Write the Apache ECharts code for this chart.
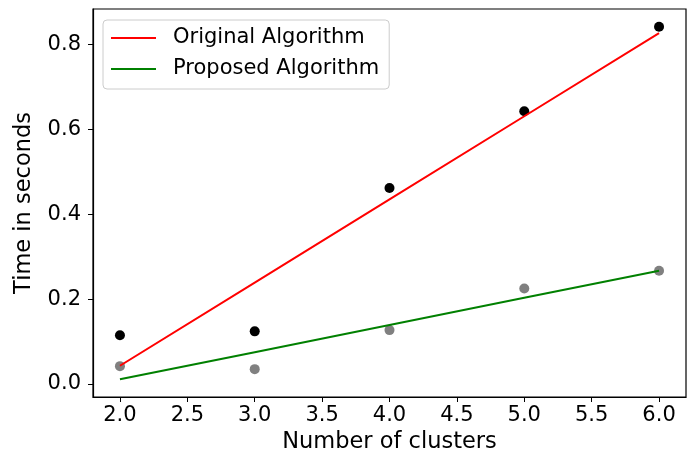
<!DOCTYPE html>
<html>
<head>
<meta charset="utf-8">
<script src="https://cdn.jsdelivr.net/npm/echarts@6/dist/echarts.min.js"></script>
<style>html,body{margin:0;padding:0;background:#fff}#c{width:692px;height:460px}</style>
</head>
<body>
<div id="c"></div>
<script>
var clusters = [2, 3, 4, 5, 6];
var originalTimes = [0.115, 0.124, 0.462, 0.643, 0.842];
var proposedTimes = [0.042, 0.035, 0.127, 0.225, 0.267];
var originalFit = [0.043, 0.239, 0.435, 0.631, 0.827];
var proposedFit = [0.011, 0.075, 0.139, 0.203, 0.267];
var xTicks = [2.0, 2.5, 3.0, 3.5, 4.0, 4.5, 5.0, 5.5, 6.0];
var yTicks = [0.0, 0.2, 0.4, 0.6, 0.8];

function pairs(xs, ys) { return xs.map(function (x, i) { return [x, ys[i]]; }); }

var FONT = 'DejaVu Sans';
var FS = 21;
var FT = 22.5;
var chart = echarts.init(document.getElementById('c'), null, { renderer: 'canvas' });
chart.setOption({
  animation: false,
  backgroundColor: '#ffffff',
  textStyle: { fontFamily: FONT },
  grid: { left: 93, right: 6, top: 9, bottom: 63, show: true, borderColor: '#000', borderWidth: 1.2, containLabel: false },
  legend: {
    left: 103, top: 20, orient: 'vertical',
    data: [{ name: 'Original Algorithm', icon: 'rect' }, { name: 'Proposed Algorithm', icon: 'rect' }],
    itemWidth: 45, itemHeight: 2, itemGap: 9,
    padding: [7, 10, 9, 8],
    backgroundColor: 'rgba(255,255,255,0.8)',
    borderColor: '#cccccc', borderWidth: 1, borderRadius: 4,
    textStyle: { fontFamily: FONT, fontSize: FS, color: '#000', lineHeight: 22, padding: [0, 0, 0, 12] }
  },
  xAxis: {
    type: 'value', min: 1.8, max: 6.2,
    name: 'Number of clusters', nameLocation: 'middle', nameGap: 33,
    nameTextStyle: { fontFamily: FONT, fontSize: FT, color: '#000' },
    axisLine: { show: true, onZero: false, lineStyle: { color: '#000', width: 1.2 } },
    axisTick: { show: true, length: 5, inside: false, customValues: xTicks, lineStyle: { color: '#000', width: 1 } },
    axisLabel: { customValues: xTicks, margin: 8, fontFamily: FONT, fontSize: FS, color: '#000',
      formatter: function (v) { return v.toFixed(1); } },
    splitLine: { show: false }
  },
  yAxis: {
    type: 'value', min: -0.0307, max: 0.8838,
    name: 'Time in seconds', nameLocation: 'middle', nameGap: 57, nameRotate: 90,
    nameTextStyle: { fontFamily: FONT, fontSize: FT, color: '#000' },
    axisLine: { show: true, onZero: false, lineStyle: { color: '#000', width: 1.2 } },
    axisTick: { show: true, length: 5, inside: false, customValues: yTicks, lineStyle: { color: '#000', width: 1 } },
    axisLabel: { customValues: yTicks, margin: 12, fontFamily: FONT, fontSize: FS, color: '#000',
      formatter: function (v) { return v.toFixed(1); } },
    splitLine: { show: false }
  },
  series: [
    { name: 'origPts', type: 'scatter', data: pairs(clusters, originalTimes), symbolSize: 10,
      itemStyle: { color: '#000000', opacity: 1 }, z: 2 },
    { name: 'propPts', type: 'scatter', data: pairs(clusters, proposedTimes), symbolSize: 10,
      itemStyle: { color: '#808080', opacity: 1 }, z: 2 },
    { name: 'Original Algorithm', type: 'line', data: pairs(clusters, originalFit), symbol: 'none',
      lineStyle: { color: '#ff0000', width: 2 }, itemStyle: { color: '#ff0000' }, z: 3 },
    { name: 'Proposed Algorithm', type: 'line', data: pairs(clusters, proposedFit), symbol: 'none',
      lineStyle: { color: '#008000', width: 2 }, itemStyle: { color: '#008000' }, z: 3 }
  ]
});
</script>
</body>
</html>
